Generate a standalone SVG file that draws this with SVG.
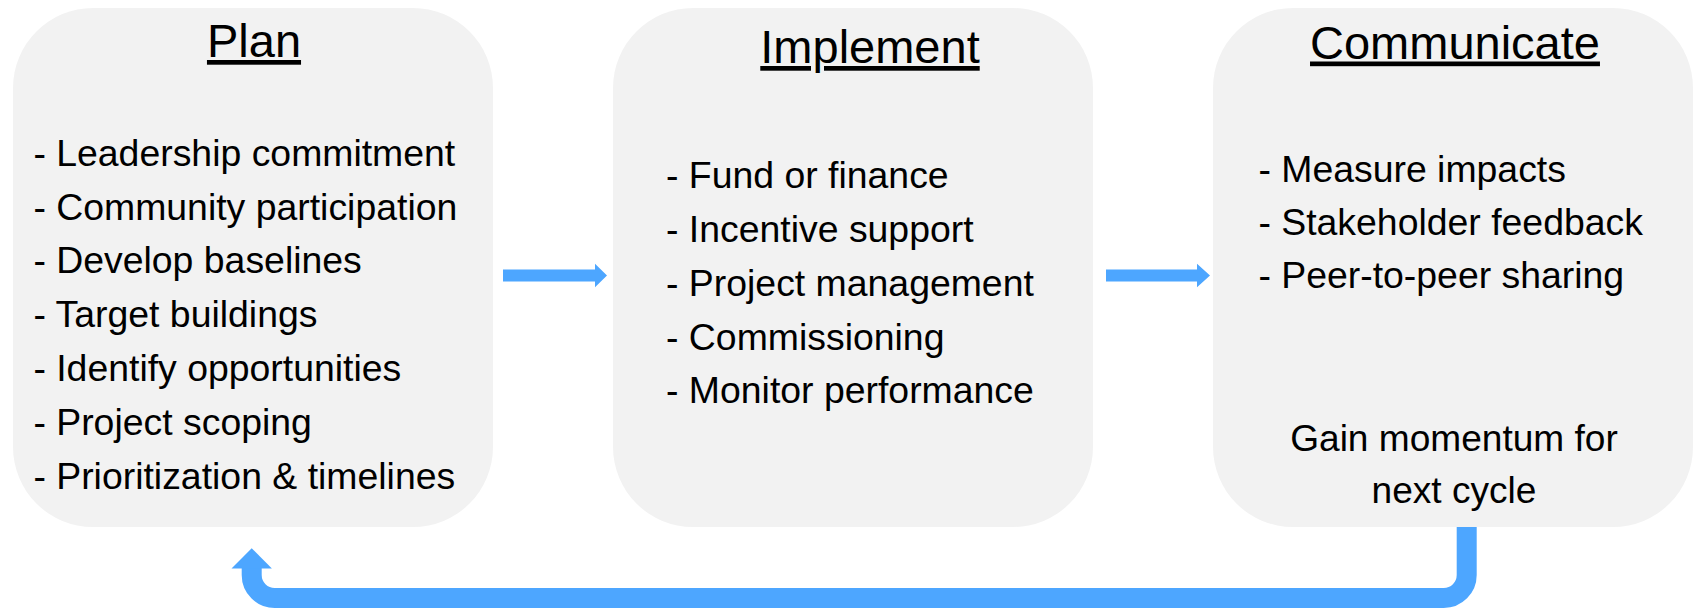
<svg xmlns="http://www.w3.org/2000/svg" width="1694" height="608" viewBox="0 0 1694 608">
<style>
.box{fill:#f2f2f2;}
.title{font-family:"Liberation Sans",Arial,sans-serif;font-size:47px;fill:#000;text-anchor:middle;text-decoration:underline;}
.body{font-family:"Liberation Sans",Arial,sans-serif;font-size:37.4px;fill:#000;}
.mid{text-anchor:middle;font-size:37.1px;}
.arrow{fill:#4da6ff;}
.conn{fill:none;stroke:#4da6ff;stroke-width:20;}
</style>
<rect width="1694" height="608" fill="#ffffff"/>
<g id="plan">
<rect class="box" x="13" y="8" width="480" height="519" rx="80" ry="80"/>
<text class="title" x="254" y="57">Plan</text>
<text class="body" x="33.4" y="165.7">- Leadership commitment</text>
<text class="body" x="33.4" y="219.5">- Community participation</text>
<text class="body" x="33.4" y="273.3">- Develop baselines</text>
<text class="body" x="33.4" y="327.1">- Target buildings</text>
<text class="body" x="33.4" y="380.9">- Identify opportunities</text>
<text class="body" x="33.4" y="434.7">- Project scoping</text>
<text class="body" x="33.4" y="488.5">- Prioritization &amp; timelines</text>
</g>
<g id="implement">
<rect class="box" x="613" y="8" width="480" height="519" rx="80" ry="80"/>
<text class="title" x="870" y="63">Implement</text>
<text class="body" x="666" y="188.3">- Fund or finance</text>
<text class="body" x="666" y="242">- Incentive support</text>
<text class="body" x="666" y="295.7">- Project management</text>
<text class="body" x="666" y="349.5">- Commissioning</text>
<text class="body" x="666" y="403.3">- Monitor performance</text>
</g>
<g id="communicate">
<rect class="box" x="1213" y="8" width="480" height="519" rx="80" ry="80"/>
<text class="title" x="1455" y="58.5">Communicate</text>
<text class="body" x="1258.4" y="181.7">- Measure impacts</text>
<text class="body" x="1258.4" y="235">- Stakeholder feedback</text>
<text class="body" x="1258.4" y="288.3">- Peer-to-peer sharing</text>
<text class="body mid" x="1454" y="450.7">Gain momentum for</text>
<text class="body mid" x="1454" y="502.7">next cycle</text>
</g>
<g id="connectors">
<polygon class="arrow" points="503,269.5 595,269.5 595,263.7 607,275.5 595,287.3 595,281.5 503,281.5"/>
<polygon class="arrow" points="1106,269.5 1197,269.5 1197,263.7 1210,275.5 1197,287.3 1197,281.5 1106,281.5"/>
<path class="conn" d="M1466.7,527 V575 A23,23 0 0 1 1443.7,598 H274.7 A23,23 0 0 1 251.7,575 V567"/>
<polygon class="arrow" points="251.7,548.3 231.5,568.5 271.9,568.5"/>
</g>
</svg>
